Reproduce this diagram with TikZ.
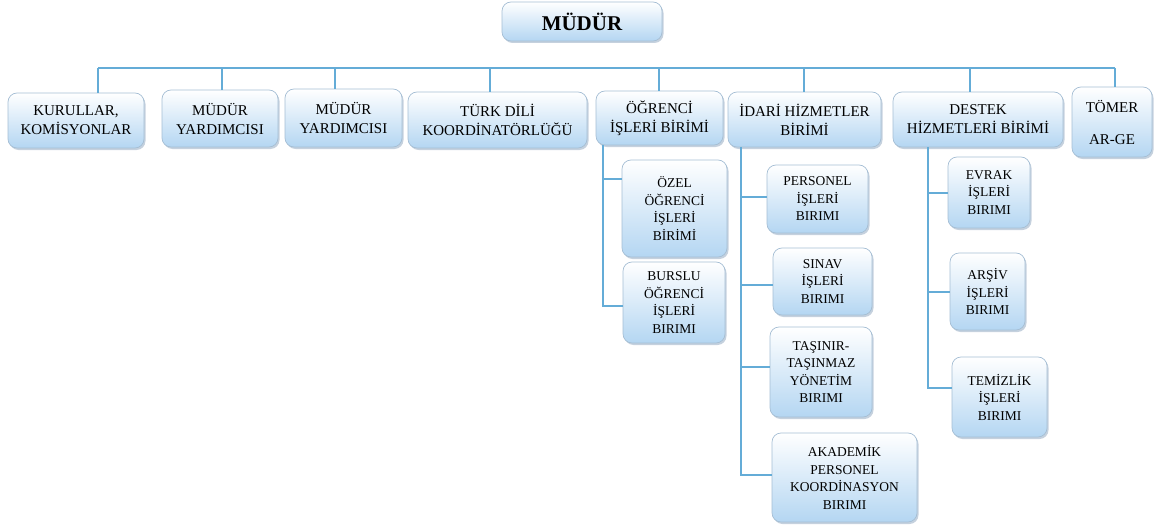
\documentclass[tikz,border=0pt]{standalone}
\usepackage{fontspec}
\setmainfont{Liberation Serif}
\usetikzlibrary{shadows}
\definecolor{lineblue}{RGB}{100,172,215}
\definecolor{boxedge}{RGB}{165,190,212}
\definecolor{boxblue}{RGB}{180,214,242}
\definecolor{shadowc}{RGB}{150,172,195}
\tikzset{
  orgbox/.style={draw=boxedge, line width=0.7pt, rounded corners=9pt,
    top color=white, bottom color=boxblue,
    drop shadow={shadow xshift=1.5pt, shadow yshift=-2pt, fill=shadowc, opacity=0.55},
    align=center, inner sep=2pt, text=black},
  topbox/.style={orgbox, font=\fontsize{15}{19}\selectfont},
  subbox/.style={orgbox, font=\fontsize{13.5}{17.5}\selectfont},
  link/.style={draw=lineblue, line width=1.1pt},
}
\begin{document}
\begin{tikzpicture}[x=1pt, y=-1pt]
\useasboundingbox (0,0) rectangle (1157,527);
% head
\node[orgbox, font=\fontsize{21}{24}\bfseries\selectfont, minimum width=160pt, minimum height=39pt] (mudur) at (582,21.5) {MÜDÜR};
% top row
\node[topbox, minimum width=136pt, minimum height=55pt] (kur) at (76,120.5) {KURULLAR,\\KOMİSYONLAR};
\node[topbox, minimum width=116pt, minimum height=57pt] (my1) at (220,118.5) {MÜDÜR\\YARDIMCISI};
\node[topbox, minimum width=117pt, minimum height=58pt] (my2) at (343.5,118) {MÜDÜR\\YARDIMCISI};
\node[topbox, minimum width=179pt, minimum height=56pt] (turk) at (497.5,120) {TÜRK DİLİ\\KOORDİNATÖRLÜĞÜ};
\node[topbox, minimum width=127pt, minimum height=54pt] (ogr) at (659.5,118) {ÖĞRENCİ\\İŞLERİ BİRİMİ};
\node[topbox, minimum width=153pt, minimum height=55pt] (idari) at (804.5,119.5) {İDARİ HİZMETLER\\BİRİMİ};
\node[topbox, minimum width=170pt, minimum height=55pt] (destek) at (978,119.5) {DESTEK\\HİZMETLERİ BİRİMİ};
\node[topbox, minimum width=80pt, minimum height=70pt] (tomer) at (1112,122) {TÖMER\\[13pt]AR-GE};
% sub boxes
\node[subbox, minimum width=105pt, minimum height=97pt] (ozel) at (674.5,208.5) {ÖZEL\\ÖĞRENCİ\\İŞLERİ\\BİRİMİ};
\node[subbox, minimum width=102pt, minimum height=81pt] (burslu) at (674,302.5) {BURSLU\\ÖĞRENCİ\\İŞLERİ\\BIRIMI};
\node[subbox, minimum width=101pt, minimum height=68pt] (pers) at (817.5,199) {PERSONEL\\İŞLERİ\\BIRIMI};
\node[subbox, minimum width=99pt, minimum height=67pt] (sinav) at (822.5,281.5) {SINAV\\İŞLERİ\\BIRIMI};
\node[subbox, minimum width=102pt, minimum height=90pt] (tasinir) at (821,372) {TAŞINIR-\\TAŞINMAZ\\YÖNETİM\\BIRIMI};
\node[subbox, minimum width=145pt, minimum height=89pt] (akad) at (844.5,477.5) {AKADEMİK\\PERSONEL\\KOORDİNASYON\\BIRIMI};
\node[subbox, minimum width=82pt, minimum height=71pt] (evrak) at (989,192.5) {EVRAK\\İŞLERİ\\BIRIMI};
\node[subbox, minimum width=75pt, minimum height=77pt] (arsiv) at (987.5,291.5) {ARŞİV\\İŞLERİ\\BIRIMI};
\node[subbox, minimum width=95pt, minimum height=80pt] (temiz) at (999.5,397) {TEMİZLİK\\İŞLERİ\\BIRIMI};
% bus
\coordinate (busL) at (98,68);
\coordinate (busR) at (1115,68);
\draw[link] (busL) -- (busR);
\foreach \n/\x in {kur/98, my1/222, my2/335, turk/490, ogr/659, idari/804, destek/970, tomer/1115}
  \draw[link] (\x,68) -- (\x,68 |- \n.north);
% ogrenci branch
\coordinate (o1) at (603,179);
\coordinate (o2) at (603,306);
\draw[link] (o1 |- ogr.south) -- (o2) -- (o2 -| burslu.west);
\draw[link] (o1) -- (o1 -| ozel.west);
% idari branch
\coordinate (i1) at (741,197);
\coordinate (i2) at (741,285);
\coordinate (i3) at (741,367);
\coordinate (i4) at (741,475);
\draw[link] (i1 |- idari.south) -- (i4) -- (i4 -| akad.west);
\draw[link] (i1) -- (i1 -| pers.west);
\draw[link] (i2) -- (i2 -| sinav.west);
\draw[link] (i3) -- (i3 -| tasinir.west);
% destek branch
\coordinate (d1) at (928,193);
\coordinate (d2) at (928,292);
\coordinate (d3) at (928,388);
\draw[link] (d1 |- destek.south) -- (d3) -- (d3 -| temiz.west);
\draw[link] (d1) -- (d1 -| evrak.west);
\draw[link] (d2) -- (d2 -| arsiv.west);
\end{tikzpicture}
\end{document}
